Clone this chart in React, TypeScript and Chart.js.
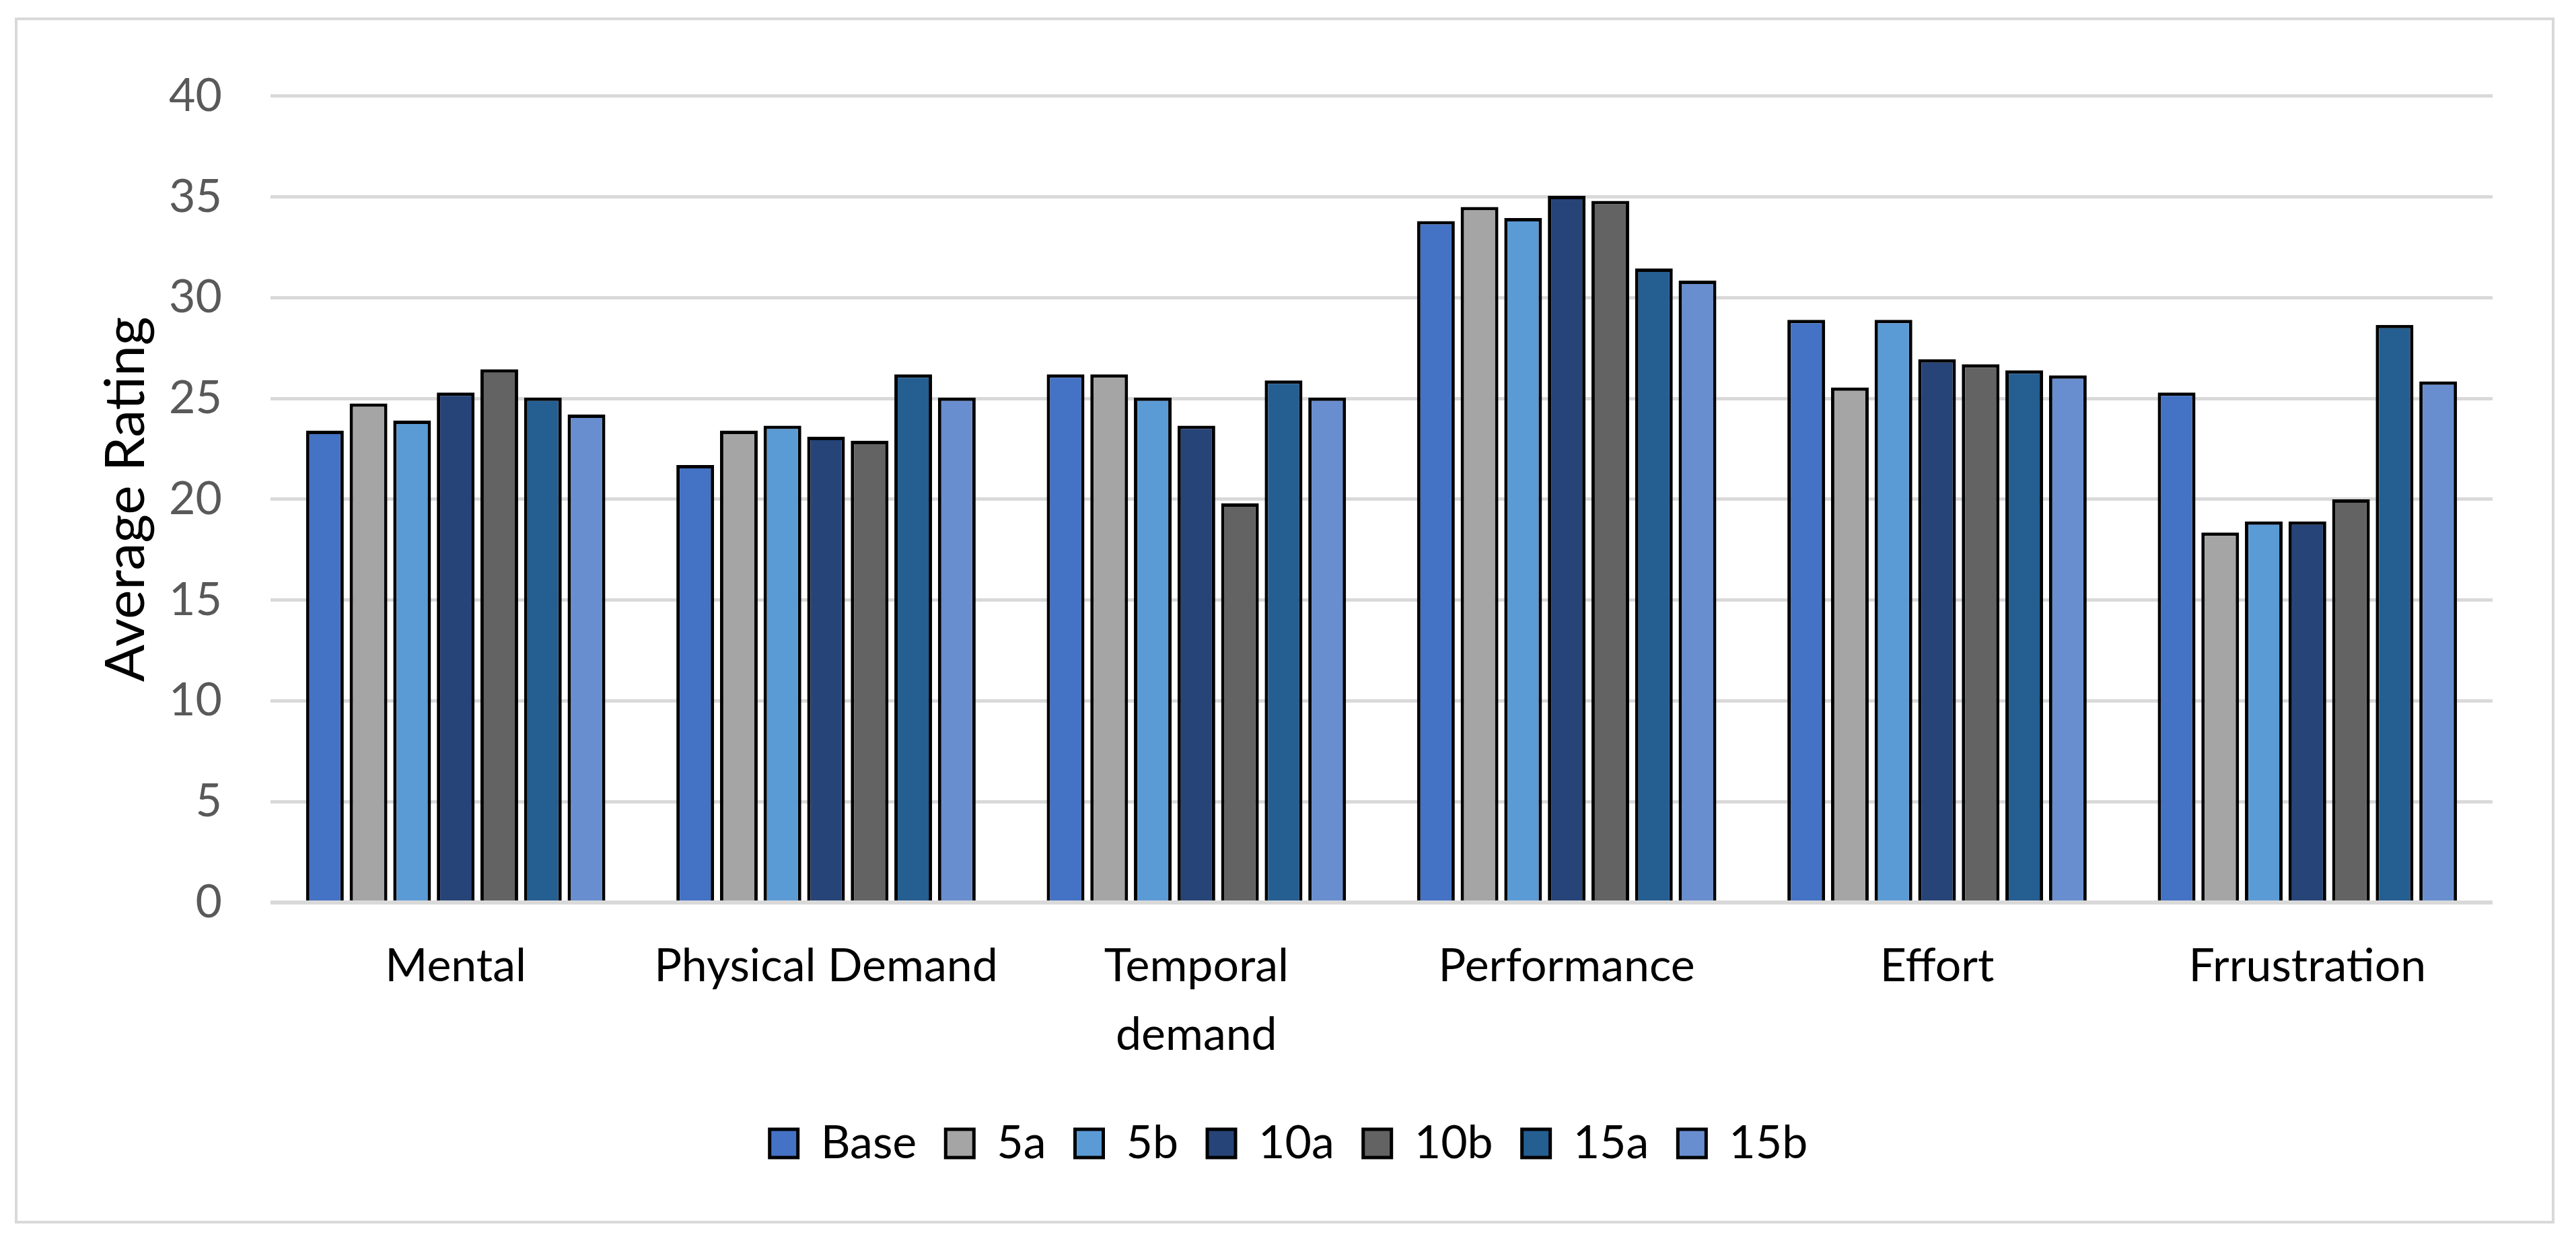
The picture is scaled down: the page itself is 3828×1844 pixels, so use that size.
import React, { useEffect, useRef } from "react";
import { Chart, registerables } from "chart.js";

Chart.register(...registerables);

const categories: (string | string[])[] = [
  "Mental",
  "Physical Demand",
  ["Temporal", "demand"],
  "Performance",
  "Effort",
  "Frrustration",
];

const seriesNames = ["Base", "5a", "5b", "10a", "10b", "15a", "15b"];
const base = [23.4, 21.7, 26.2, 33.8, 28.9, 25.3];
const s5a = [24.75, 23.4, 26.2, 34.5, 25.55, 18.35];
const s5b = [23.9, 23.65, 25.05, 33.95, 28.9, 18.9];
const s10a = [25.3, 23.1, 23.65, 35.05, 26.95, 18.9];
const s10b = [26.45, 22.9, 19.8, 34.8, 26.7, 20.0];
const s15a = [25.05, 26.2, 25.9, 31.45, 26.4, 28.65];
const s15b = [24.2, 25.05, 25.05, 30.85, 26.15, 25.85];
const seriesColors = ["#4472C4", "#A5A5A5", "#5B9BD5", "#264478", "#636363", "#255E91", "#698ED0"];

const yTicks = [0, 5, 10, 15, 20, 25, 30, 35, 40];

const FONT = "Lato, 'Open Sans', sans-serif";

export default function App() {
  const ref = useRef<HTMLCanvasElement | null>(null);

  useEffect(() => {
    if (!ref.current) return;
    const allSeries = [base, s5a, s5b, s10a, s10b, s15a, s15b];
    const chart = new Chart(ref.current, {
      type: "bar",
      data: {
        labels: categories,
        datasets: allSeries.map((d, i) => ({
          label: seriesNames[i],
          data: d,
          backgroundColor: seriesColors[i],
          borderColor: "#000000",
          borderWidth: 5,
          borderSkipped: "start",
          categoryPercentage: 0.824,
          barPercentage: 0.865,
        })),
      },
      options: {
        responsive: false,
        animation: false,
        devicePixelRatio: 1,
        layout: { padding: { left: 100, right: 88, top: 88, bottom: 71 } },
        plugins: {
          tooltip: { enabled: false },
          legend: {
            position: "bottom",
            align: "center",
            labels: {
              color: "#000000",
              font: { family: FONT, size: 68 },
              boxWidth: 42,
              boxHeight: 42,
              padding: 43,
            },
          },
        },
        scales: {
          x: {
            grid: { display: false, drawTicks: false },
            border: { display: false },
            ticks: {
              color: "#000000",
              font: { family: FONT, size: 68, lineHeight: 1.5 },
              padding: 44,
              maxRotation: 0,
              autoSkip: false,
            },
            afterFit: (scale: any) => {
              scale.height = 281;
            },
          },
          y: {
            min: 0,
            max: 40,
            afterBuildTicks: (scale: any) => {
              scale.ticks = yTicks.map((v) => ({ value: v }));
            },
            grid: {
              color: "#D9D9D9",
              lineWidth: (ctx: any) => (ctx.tick && ctx.tick.value === 0 ? 6 : 5),
              drawTicks: false,
            },
            border: { display: false },
            ticks: {
              color: "#595959",
              font: { family: FONT, size: 68 },
              padding: 72,
            },
            title: {
              display: true,
              text: "Average Rating",
              color: "#000000",
              font: { family: FONT, size: 82, lineHeight: 1.2 },
              padding: { top: 12, bottom: 0 },
            },
            afterFit: (scale: any) => {
              scale.width = 276;
            },
          },
        },
      },
    });
    return () => chart.destroy();
  }, []);

  return (
    <div
      style={{
        position: "absolute",
        left: 22,
        top: 26,
        width: 3774,
        height: 1792,
        boxSizing: "border-box",
        border: "4px solid #D9D9D9",
        background: "#FFFFFF",
      }}
    >
      <canvas ref={ref} width={3766} height={1784} style={{ display: "block", width: 3766, height: 1784 }} />
    </div>
  );
}
